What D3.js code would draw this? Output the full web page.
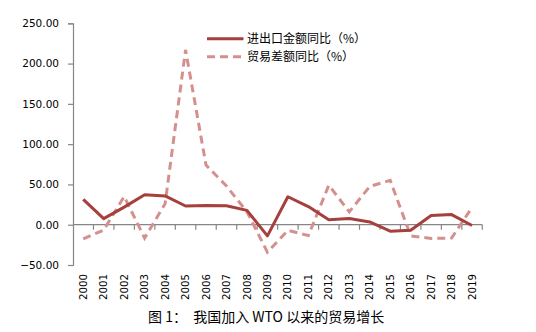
<!DOCTYPE html>
<html><head><meta charset="utf-8">
<script src="https://cdn.jsdelivr.net/npm/d3@7"></script>
<style>body{margin:0;background:#fff}svg{display:block}</style>
</head><body>
<svg id="c" width="536" height="332"></svg>
<script>
const years = ["2000","2001","2002","2003","2004","2005","2006","2007","2008","2009","2010","2011","2012","2013","2014","2015","2016","2017","2018","2019"];
const tradeGrowth = [31.5,7.5,21.8,37.1,35.7,23.2,23.8,23.5,17.8,-13.9,34.7,22.5,6.2,7.6,3.4,-8.0,-6.8,11.4,12.6,-1.0];
const surplusGrowth = [-17.5,-6.6,35.0,-16.5,26.0,217.0,74.0,48.0,16.0,-34.0,-7.0,-13.5,49.0,16.0,47.5,55.0,-13.8,-17.0,-16.5,21.5];
const yTicks = [-50,0,50,100,150,200,250];
const seriesNames = ["进出口金额同比（%）","贸易差额同比（%）"];
const caption = "图 1：  我国加入 WTO 以来的贸易增长";

const svg = d3.select("#c");
const x = d3.scaleBand().domain(years).range([73, 482.3]).padding(0);
const y = d3.scaleLinear().domain([-50, 250]).range([265, 23.3]);
const axisColor = "#868686";
const numFont = "'DejaVu Sans', sans-serif";
const cjkFont = "'Noto Sans CJK SC', sans-serif";

// Y axis
const yAxis = svg.append("g").attr("transform", "translate(73,0)")
  .call(d3.axisLeft(y).tickValues(yTicks).tickSize(5).tickPadding(9).tickFormat(d3.format(".2f")));
yAxis.select(".domain").attr("stroke", axisColor).attr("stroke-width", 1.2);
yAxis.selectAll(".tick line").attr("stroke", axisColor).attr("stroke-width", 1.2);
yAxis.selectAll(".tick text").attr("font-family", numFont).attr("font-size", 10.5).attr("fill", "#000");

// X axis at zero
const y0 = y(0);
svg.append("line").attr("x1", 73).attr("x2", 482.3).attr("y1", y0).attr("y2", y0)
  .attr("stroke", axisColor).attr("stroke-width", 1.2);
const bounds = years.map(d => x(d)).concat([x(years[years.length-1]) + x.bandwidth()]);
svg.append("g").selectAll("line").data(bounds.slice(1)).join("line")
  .attr("x1", d => d).attr("x2", d => d).attr("y1", y0).attr("y2", y0 + 5)
  .attr("stroke", axisColor).attr("stroke-width", 1.2);

// X labels
svg.append("g").selectAll("text").data(years).join("text")
  .attr("transform", d => `translate(${x(d) + x.bandwidth()/2},274) rotate(-90)`)
  .attr("text-anchor", "end").attr("dy", "0.35em")
  .attr("font-family", numFont).attr("font-size", 10.2).attr("fill", "#000")
  .text(d => d);

// Lines
const line = d3.line().x((d, i) => x(years[i]) + x.bandwidth()/2).y(d => y(d));
svg.append("path").datum(surplusGrowth).attr("d", line).attr("fill", "none")
  .attr("stroke", "#D4908E").attr("stroke-width", 3).attr("stroke-dasharray", "8,5");
svg.append("path").datum(tradeGrowth).attr("d", line).attr("fill", "none")
  .attr("stroke", "#A5403D").attr("stroke-width", 3).attr("stroke-linejoin", "round");

// Legend
const legend = svg.append("g");
const lg = [{name: seriesNames[0], color: "#A5403D", dash: null, y: 38.7},
            {name: seriesNames[1], color: "#D4908E", dash: "8,5", y: 56.7}];
lg.forEach(l => {
  legend.append("line").attr("x1", 207).attr("x2", 243.5).attr("y1", l.y).attr("y2", l.y)
    .attr("stroke", l.color).attr("stroke-width", 3).attr("stroke-dasharray", l.dash);
  legend.append("text").attr("x", 247).attr("y", l.y).attr("dy", "0.35em")
    .attr("font-family", cjkFont).attr("font-size", 12).attr("fill", "#000").text(l.name);
});

// Caption
svg.append("text").attr("x", 148).attr("y", 317.5).attr("dy", "0.35em")
  .attr("font-family", cjkFont).attr("font-size", 14).attr("fill", "#000")
  .attr("xml:space", "preserve").style("white-space", "pre").text(caption);
</script>
</body></html>
